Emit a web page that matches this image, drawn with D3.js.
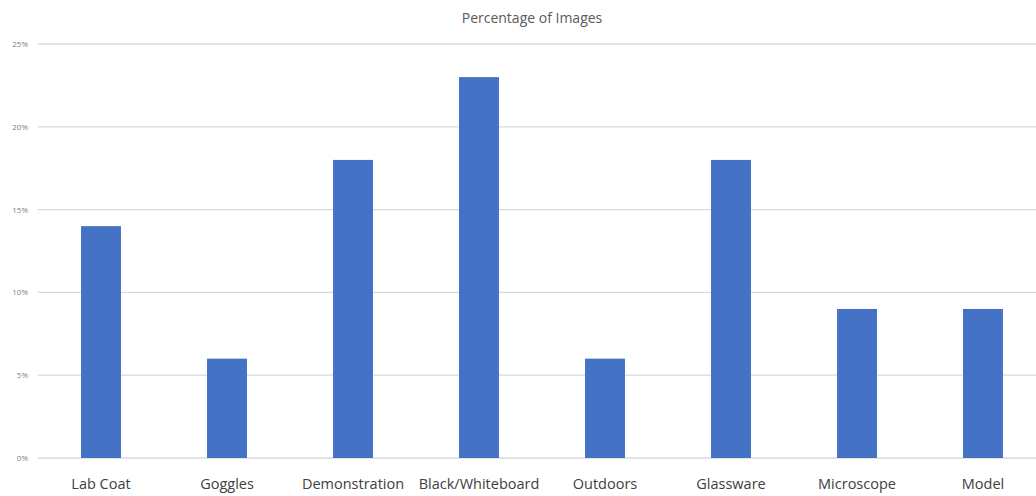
<!DOCTYPE html>
<html>
<head>
<meta charset="utf-8">
<script src="https://cdn.jsdelivr.net/npm/d3@7"></script>
<style>
  html, body { margin: 0; padding: 0; background: #fff; }
  svg { display: block; }
</style>
</head>
<body>
<svg id="chart" width="1036" height="496"></svg>
<script>
// Share of images showing each element (percent)
const categories = ["Lab Coat", "Goggles", "Demonstration", "Black/Whiteboard", "Outdoors", "Glassware", "Microscope", "Model"];
const values = [14, 6, 18, 23, 6, 18, 9, 9];
const yTicks = [0, 5, 10, 15, 20, 25];
const title = "Percentage of Images";

const svg = d3.select("#chart");
const W = 1036, H = 496;

const x = d3.scaleBand()
  .domain(categories)
  .range([38, 1046])
  .paddingInner(0.683)
  .paddingOuter(0.3415);

const y = d3.scaleLinear()
  .domain([0, 25])
  .range([458, 44]);

// horizontal gridlines
svg.append("g")
  .selectAll("line")
  .data(yTicks)
  .join("line")
  .attr("x1", 38)
  .attr("x2", W)
  .attr("y1", d => y(d))
  .attr("y2", d => y(d))
  .attr("stroke", "#d9d9d9")
  .attr("stroke-width", 1.3);

// y axis labels
const yAxis = d3.axisLeft(y).tickValues(yTicks).tickFormat(d => d + "%").tickSize(0).tickPadding(0);
const gy = svg.append("g").attr("transform", "translate(28,0)").call(yAxis);
gy.select(".domain").remove();
gy.selectAll("text")
  .attr("font-family", "'Open Sans', sans-serif")
  .attr("font-size", 8)
  .attr("fill", "#7f7f7f");

// bars
svg.append("g")
  .selectAll("rect")
  .data(categories.map((c, i) => ({ c, v: values[i] })))
  .join("rect")
  .attr("x", d => x(d.c))
  .attr("y", d => y(d.v))
  .attr("width", x.bandwidth())
  .attr("height", d => y(0) - y(d.v))
  .attr("fill", "#4472c4");

// category labels
const xAxis = d3.axisBottom(x).tickSize(0).tickPadding(0);
const gx = svg.append("g").attr("transform", "translate(0,479)").call(xAxis);
gx.select(".domain").remove();
gx.selectAll("text")
  .attr("font-family", "'Open Sans', sans-serif")
  .attr("font-size", 14.5)
  .attr("fill", "#404040");

// title
svg.append("text")
  .attr("x", 532)
  .attr("y", 23)
  .attr("text-anchor", "middle")
  .attr("font-family", "'Open Sans', sans-serif")
  .attr("font-size", 14)
  .attr("fill", "#595959")
  .text(title);
</script>
</body>
</html>
